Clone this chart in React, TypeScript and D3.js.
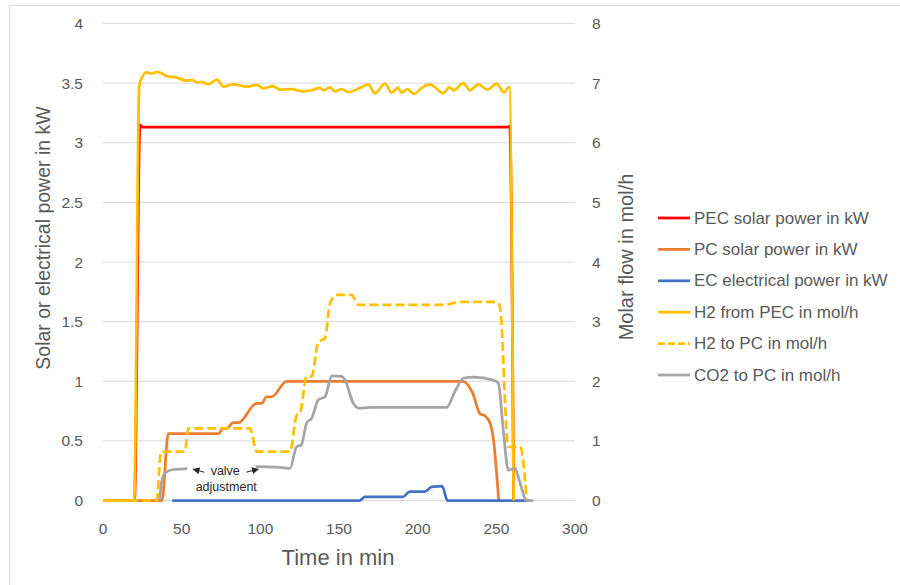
import React from "react";
import * as d3 from "d3";

// ---------- data (time in min) ----------
const xTicks = [0, 50, 100, 150, 200, 250, 300];
const leftTicks = [0, 0.5, 1, 1.5, 2, 2.5, 3, 3.5, 4];
const rightTicks = [0, 1, 2, 3, 4, 5, 6, 7, 8];

// PEC solar power in kW (left axis)
const pecT = [0, 20, 23.5, 25, 257.5, 258.5, 261];
const pecV = [0, 0, 3.15, 3.13, 3.13, 3.14, 0];

// PC solar power in kW (left axis)
const pcT = [0, 37.5, 41.5, 73.3, 76.5, 78.6, 82.8, 86, 97.7, 100.9, 104, 107.2, 116.8, 228.6, 235, 239.5, 242.7, 246, 248, 251.5];
const pcV = [0, 0, 0.56, 0.56, 0.605, 0.605, 0.652, 0.652, 0.815, 0.815, 0.87, 0.87, 1.0, 1.0, 0.9, 0.73, 0.71, 0.65, 0.53, 0];

// EC electrical power in kW (left axis)
const ecT = [44, 163, 166.5, 190.7, 195, 204.5, 209, 215.5, 219, 271];
const ecV = [0, 0, 0.03, 0.03, 0.075, 0.075, 0.115, 0.12, 0, 0];

// H2 from PEC in mol/h (right axis)
const h2pecT = [0, 19.8, 23, 24, 27.8, 31, 34.5, 41.5, 45.8, 53.2, 56.4, 60.6, 62.7, 66.9, 72.6, 76.5, 82.8, 91.3, 97.7, 101.9, 108.2, 112.5, 119.9, 127.3, 133.7, 137.9, 140, 144.3, 147.5, 151.7, 155.9, 163.4, 168.6, 172.9, 179.2, 183.5, 187.3, 189.9, 193.4, 197.7, 202.6, 207.8, 216.3, 220.1, 223.1, 229, 233.3, 238.5, 244.3, 250.2, 254.9, 258.2, 261];
const h2pecV = [0, 0, 6.95, 7.05, 7.18, 7.16, 7.19, 7.11, 7.1, 7.04, 7.05, 7.01, 7.02, 6.98, 7.06, 6.94, 6.98, 6.94, 6.97, 6.91, 6.95, 6.89, 6.9, 6.86, 6.89, 6.92, 6.88, 6.93, 6.86, 6.9, 6.85, 6.92, 6.98, 6.83, 6.99, 6.84, 6.92, 6.84, 6.9, 6.82, 6.92, 6.98, 6.83, 6.93, 6.88, 7.0, 6.88, 6.98, 6.89, 6.99, 6.84, 6.94, 0];

// H2 to PC in mol/h (right axis)
const h2pcT = [0, 34, 37, 52.1, 54.2, 93.4, 97.7, 118.9, 123.1, 125.2, 129.5, 132.6, 136.9, 141.1, 144.3, 148.5, 158, 162.3, 216.3, 226.9, 250.2, 252.3, 257.6, 265, 266, 269.3];
const h2pcV = [0, 0, 0.82, 0.82, 1.21, 1.21, 0.82, 0.82, 1.43, 1.47, 2.08, 2.08, 2.66, 2.72, 3.31, 3.45, 3.45, 3.28, 3.28, 3.33, 3.33, 3.25, 0.9, 0.9, 0.85, 0];

// CO2 to PC in mol/h (right axis)
const co2T = [36, 37.3, 39.5, 44.7, 51, 97.7, 110, 118.9, 123, 126, 129.5, 132.6, 136.9, 141.1, 145.4, 151.7, 153.8, 159.1, 162.3, 170, 200, 218.4, 223.7, 229, 235.4, 248.1, 251.3, 254.4, 257.6, 261.9, 265, 269.3, 273.5];
const co2V = [0, 0.32, 0.46, 0.52, 0.53, 0.57, 0.56, 0.54, 0.9, 0.93, 1.3, 1.38, 1.69, 1.74, 2.09, 2.08, 2.02, 1.63, 1.55, 1.56, 1.56, 1.56, 1.83, 2.05, 2.07, 2.02, 1.97, 1.18, 0.51, 0.54, 0.3, 0, 0];

const legendLabels = [
  "PEC solar power in kW",
  "PC solar power in kW",
  "EC electrical power in kW",
  "H2 from PEC in mol/h",
  "H2 to PC in mol/h",
  "CO2 to PC in mol/h",
];

const FONT = "'Liberation Sans', Arial, sans-serif";
const TXT = "#595959";

export default function App() {
  const xS = d3.scaleLinear().domain([0, 300]).range([103, 575]);
  const yL = d3.scaleLinear().domain([0, 4]).range([500.5, 23.5]);
  const yR = d3.scaleLinear().domain([0, 8]).range([500.5, 23.5]);

  const mk = (ts: number[], vs: number[], y: d3.ScaleLinear<number, number>) =>
    d3
      .line<number>()
      .x((_, i) => xS(ts[i]))
      .y((v) => y(v))
      .curve(d3.curveMonotoneX)(vs) as string;

  const series = [
    { d: mk(pecT, pecV, yL), color: "#FF0000", dash: undefined },
    { d: mk(pcT, pcV, yL), color: "#ED7D31", dash: undefined },
    { d: mk(ecT, ecV, yL), color: "#4472C4", dash: undefined },
    { d: mk(h2pecT, h2pecV, yR), color: "#FFC000", dash: undefined },
    { d: mk(h2pcT, h2pcV, yR), color: "#FFC000", dash: "9,4" },
    { d: mk(co2T, co2V, yR), color: "#A5A5A5", dash: undefined },
  ];

  const annX = xS(77.7);
  const annY = yR(0.5);

  return (
    <svg
      width={900}
      height={585}
      style={{ position: "absolute", left: 0, top: 0, background: "#fff" }}
      fontFamily={FONT}
    >
      <defs>
        <marker id="ah" viewBox="0 0 10 10" refX="9" refY="5" markerWidth="7" markerHeight="7" markerUnits="userSpaceOnUse" orient="auto">
          <path d="M0,0 L10,5 L0,10 z" fill="#262626" />
        </marker>
      </defs>
      <rect x={0} y={0} width={900} height={585} fill="#fff" />
      <rect x={9.5} y={5.5} width={900} height={600} fill="none" stroke="#D9D9D9" strokeWidth={1} />

      {/* gridlines */}
      {leftTicks.map((t) => (
        <line key={"g" + t} x1={xS(0)} x2={xS(300)} y1={yL(t)} y2={yL(t)} stroke="#D9D9D9" strokeWidth={1} />
      ))}

      {/* left tick labels */}
      {leftTicks.map((t) => (
        <text key={"l" + t} x={83} y={yL(t)} textAnchor="end" dominantBaseline="central" fontSize={15.5} fill={TXT}>
          {String(t)}
        </text>
      ))}
      {/* right tick labels */}
      {rightTicks.map((t) => (
        <text key={"r" + t} x={592} y={yR(t)} textAnchor="start" dominantBaseline="central" fontSize={15.5} fill={TXT}>
          {String(t)}
        </text>
      ))}
      {/* x tick labels */}
      {xTicks.map((t) => (
        <text key={"x" + t} x={xS(t)} y={528} textAnchor="middle" dominantBaseline="central" fontSize={15.5} fill={TXT}>
          {String(t)}
        </text>
      ))}

      {/* axis titles */}
      <text x={338} y={557} textAnchor="middle" dominantBaseline="central" fontSize={22} fill={TXT}>
        Time in min
      </text>
      <text transform="translate(43,238) rotate(-90)" textAnchor="middle" dominantBaseline="central" fontSize={19.5} fill={TXT}>
        Solar or electrical power in kW
      </text>
      <text transform="translate(626,257) rotate(-90)" textAnchor="middle" dominantBaseline="central" fontSize={20} fill={TXT}>
        Molar flow in mol/h
      </text>

      {/* series */}
      {series.map((s, i) => (
        <path key={"s" + i} d={s.d} fill="none" stroke={s.color} strokeWidth={2.75} strokeDasharray={s.dash} strokeLinejoin="round" />
      ))}

      {/* annotation */}
      <rect x={xS(53.5)} y={yR(0.7)} width={xS(97) - xS(53.5)} height={yR(0.08) - yR(0.7)} fill="#fff" />
      <text x={annX} y={annY} textAnchor="middle" dominantBaseline="central" fontSize={12.5} fill="#262626">
        valve
      </text>
      <text x={annX + 1} y={annY + 16} textAnchor="middle" dominantBaseline="central" fontSize={12.5} fill="#262626">
        adjustment
      </text>
      <line x1={annX - 21} y1={annY + 1.5} x2={annX - 32} y2={annY - 1.5} stroke="#262626" strokeWidth={1} markerEnd="url(#ah)" />
      <line x1={annX + 21} y1={annY + 1.5} x2={annX + 33} y2={annY - 1.5} stroke="#262626" strokeWidth={1} markerEnd="url(#ah)" />

      {/* legend */}
      {legendLabels.map((lab, i) => {
        const y = 218 + i * 31.4;
        const s = series[i];
        return (
          <g key={"lg" + i}>
            <line x1={658} x2={690} y1={y} y2={y} stroke={s.color} strokeWidth={2.75} strokeDasharray={s.dash ? "7,3" : undefined} />
            <text x={694} y={y} dominantBaseline="central" fontSize={17} fill={TXT}>
              {lab}
            </text>
          </g>
        );
      })}
    </svg>
  );
}
